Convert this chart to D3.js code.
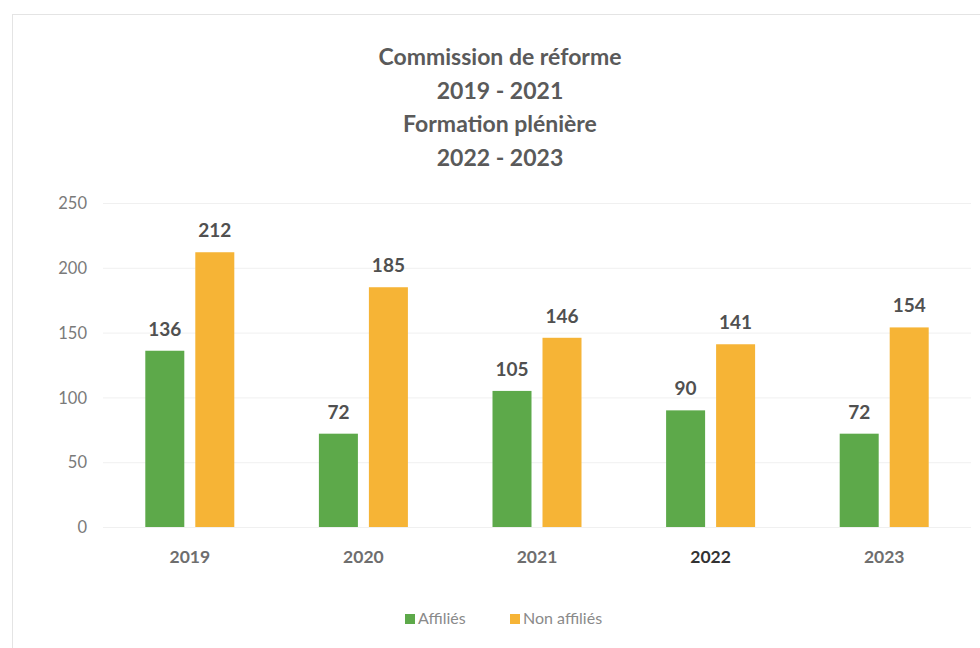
<!DOCTYPE html>
<html><head><meta charset="utf-8">
<script src="https://cdn.jsdelivr.net/npm/d3@7"></script>
<style>body{margin:0;background:#fff;}svg{display:block;}</style>
</head><body>
<svg id="c" width="980" height="648"></svg>
<script>
const categories = ["2019","2020","2021","2022","2023"];
const affilies = [136, 72, 105, 90, 72];
const nonAffilies = [212, 185, 146, 141, 154];
const seriesNames = ["Affiliés", "Non affiliés"];
const yTicks = [0, 50, 100, 150, 200, 250];
const titleLines = ["Commission de réforme", "2019 - 2021", "Formation plénière", "2022 - 2023"];

const colors = ["#5DA94A", "#F6B436"];
const svg = d3.select("#c");
const font = "Lato, 'Open Sans', sans-serif";

// frame
svg.append("rect").attr("x", 12.5).attr("y", 14.5).attr("width", 975).attr("height", 640)
  .attr("fill", "none").attr("stroke", "#e4e4e4");

const x = d3.scaleBand().domain(categories).range([103, 971]).paddingInner(0).paddingOuter(0);
const y = d3.scaleLinear().domain([0, 250]).range([527, 203]);
const groupW = 89;
const off = (x.bandwidth() - groupW) / 2;
const inner = d3.scaleBand().domain([0, 1]).range([off, off + groupW]).paddingInner(0.22).paddingOuter(0);

// gridlines
svg.append("g").selectAll("line").data(yTicks).join("line")
  .attr("x1", 103).attr("x2", 971)
  .attr("y1", d => y(d) + 0.5).attr("y2", d => y(d) + 0.5)
  .attr("stroke", "#f0f0f0").attr("stroke-width", 1);

// y axis
const yAxis = d3.axisLeft(y).tickValues(yTicks).tickSize(0).tickPadding(0);
const gy = svg.append("g").attr("transform", "translate(87,0)").call(yAxis);
gy.select(".domain").remove();
gy.selectAll("text").attr("font-family", font).attr("font-size", 16.5).attr("fill", "#7a7a7a").attr("dy", "0.35em");

// x axis
const xAxis = d3.axisBottom(x).tickSize(0).tickPadding(0);
const gx = svg.append("g").attr("transform", "translate(0,551)").call(xAxis);
gx.select(".domain").remove();
gx.selectAll("text").attr("font-family", font).attr("font-size", 17.5).attr("font-weight", "bold")
  .attr("fill", (d) => d === "2022" ? "#333" : "#6e6e6e").attr("dy", "0.7em");

// bars
const series = [affilies, nonAffilies];
series.forEach((vals, si) => {
  const g = svg.append("g");
  g.selectAll("rect").data(categories).join("rect")
    .attr("x", (d) => x(d) + inner(si))
    .attr("y", (d, i) => y(vals[i]))
    .attr("width", inner.bandwidth())
    .attr("height", (d, i) => y(0) - y(vals[i]))
    .attr("fill", colors[si]);
  g.selectAll("text").data(categories).join("text")
    .attr("x", (d) => x(d) + inner(si) + inner.bandwidth() / 2)
    .attr("y", (d, i) => y(vals[i]) - 15)
    .attr("text-anchor", "middle")
    .attr("font-family", font).attr("font-size", 19).attr("font-weight", "bold")
    .attr("fill", "#505050")
    .text((d, i) => vals[i]);
});

// title
svg.append("g").selectAll("text").data(titleLines).join("text")
  .attr("x", 500).attr("y", (d, i) => 65 + i * 33.5)
  .attr("text-anchor", "middle")
  .attr("font-family", font).attr("font-size", 23).attr("font-weight", "bold")
  .attr("fill", "#5a5a5a")
  .text(d => d);

// legend
const legendX = [405, 510];
const lg = svg.append("g");
seriesNames.forEach((n, i) => {
  lg.append("rect").attr("x", legendX[i]).attr("y", 614).attr("width", 10).attr("height", 10).attr("fill", colors[i]);
  lg.append("text").attr("x", legendX[i] + 13).attr("y", 624)
    .attr("font-family", font).attr("font-size", 16).attr("fill", "#8a8a8a").text(n);
});
</script>
</body></html>
